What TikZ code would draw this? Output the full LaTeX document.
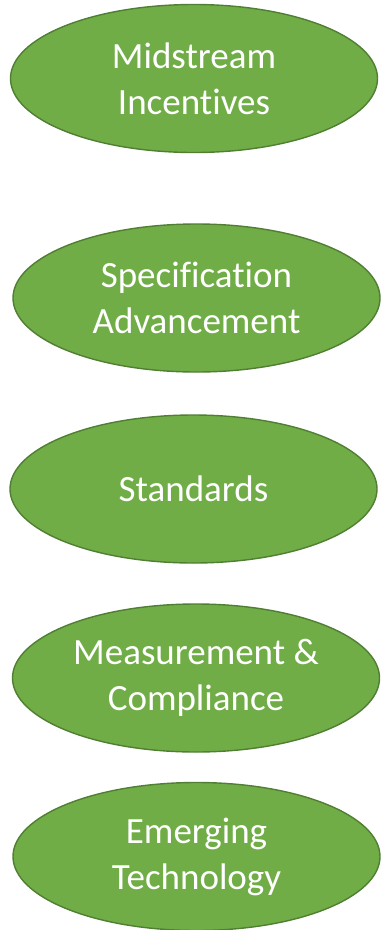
\documentclass[tikz,border=0pt]{standalone}
\usepackage{fontspec}
\setmainfont{Carlito}[Ligatures=NoCommon]
\usetikzlibrary{shapes.geometric}
\tikzset{
  oval/.style={ellipse, draw=ovalborder, fill=ovalfill, line width=1.4pt,
    minimum width=367pt, minimum height=148pt, inner sep=0pt,
    text=white, align=center, font=\fontsize{37}{46}\selectfont}
}
\definecolor{ovalfill}{HTML}{70AD47}
\definecolor{ovalborder}{HTML}{507E32}
\begin{document}
\begin{tikzpicture}[x=1pt,y=-1pt]
\useasboundingbox (0,0) rectangle (385,930);
\node[oval] (mid) at (194,78.5) {Midstream\\Incentives};
\node[oval] (spec) at (196.5,298) {Specification\\Advancement};
\node[oval] (std) at (193.5,489) {Standards};
\node[oval] (meas) at (196,678) {Measurement \&\\Compliance};
\node[oval] (emer) at (196.5,856.5) {Emerging\\Technology};
\end{tikzpicture}
\end{document}
